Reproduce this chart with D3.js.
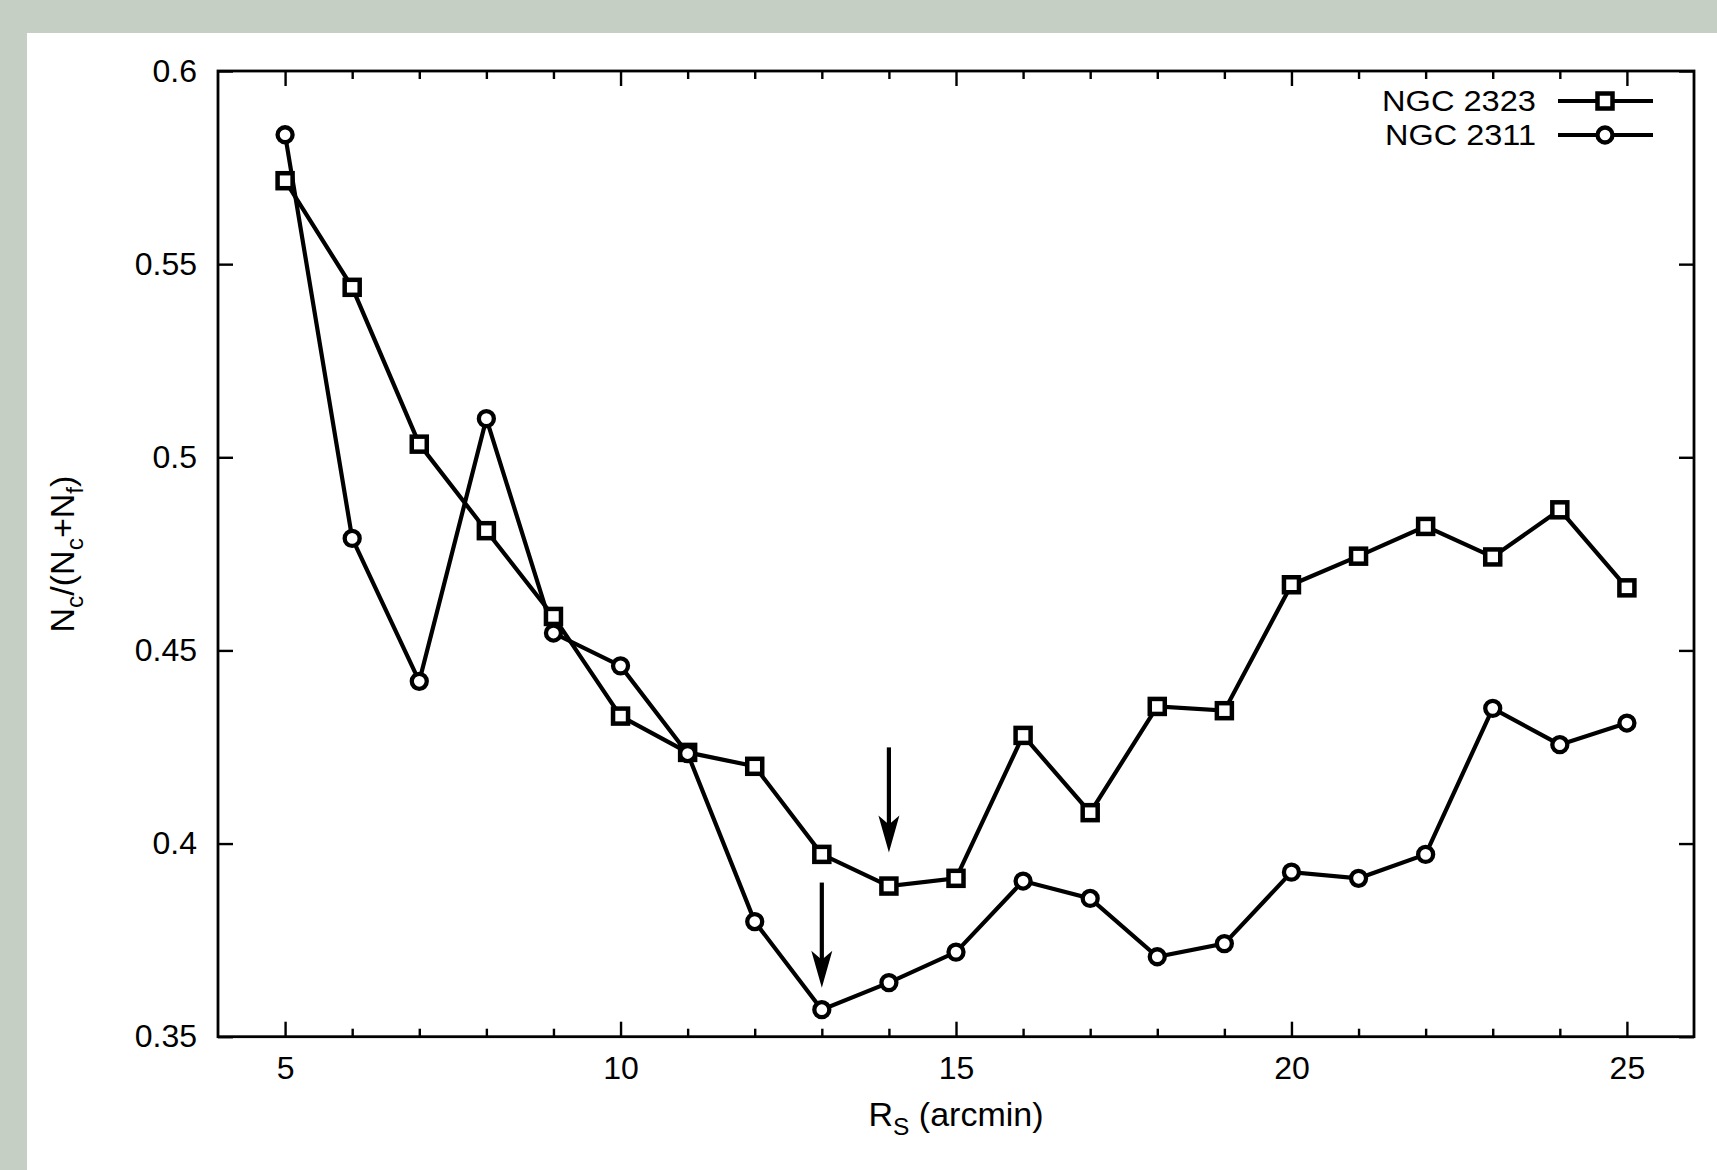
<!DOCTYPE html>
<html>
<head>
<meta charset="utf-8">
<script src="https://cdn.jsdelivr.net/npm/d3@7"></script>
<style>
  html, body { margin: 0; padding: 0; background: #c6cfc4; }
  svg { display: block; }
  text { font-family: "Liberation Sans", Arial, Helvetica, sans-serif; fill: #000; }
</style>
</head>
<body>
<svg id="chart" width="1717" height="1170"></svg>
<script>
// ---- data ----
const radii = [5,6,7,8,9,10,11,12,13,14,15,16,17,18,19,20,21,22,23,24,25];
const ngc2323 = [0.5716,0.544,0.5034,0.481,0.4588,0.433,0.4236,0.420,0.3972,0.389,0.391,
                 0.428,0.408,0.4355,0.4344,0.467,0.4744,0.4821,0.4742,0.4864,0.4662];
const ngc2311 = [0.5835,0.479,0.442,0.510,0.4545,0.446,0.4233,0.3798,0.357,0.364,0.3719,
                 0.3903,0.3858,0.3707,0.3741,0.3926,0.391,0.3972,0.435,0.4256,0.4312];
const seriesNames = ["NGC 2323", "NGC 2311"];
const xMajorTicks = [5,10,15,20,25];
const xMinorTicks = [5,6,7,8,9,10,11,12,13,14,15,16,17,18,19,20,21,22,23,24,25];
const yTicks = [0.35,0.4,0.45,0.5,0.55,0.6];
const yTickLabels = ["0.35","0.4","0.45","0.5","0.55","0.6"];
// arrows: [x, yStart, yEnd]
const arrowX = [14, 13];
const arrowFrom = [0.4249, 0.3899];
const arrowTo = [0.3977, 0.3627];

// ---- layout ----
const svg = d3.select("#chart");
const W = 1717, H = 1170;
const L = 218, R = 1694, T = 71, B = 1036.7;
const FS = 32, FL = 29, FT = 34;

svg.append("rect").attr("x", 0).attr("y", 0).attr("width", W).attr("height", H).attr("fill", "#c6cfc4");
svg.append("rect").attr("x", 27).attr("y", 33).attr("width", W - 27).attr("height", H - 33).attr("fill", "#ffffff");

const x = d3.scaleLinear().domain([4, 26]).range([L, R]);
const y = d3.scaleLinear().domain([0.35, 0.6]).range([B, T]);

const axisStyle = g => {
  g.select(".domain").remove();
  g.selectAll(".tick line").attr("stroke", "#000").attr("stroke-width", 2.4);
  g.selectAll(".tick text").style("font-size", FS + "px").attr("fill", "#000")
    .style("font-family", '"Liberation Sans", Arial, sans-serif');
};

// bottom major
svg.append("g").attr("transform", `translate(0,${B})`)
  .call(d3.axisBottom(x).tickValues(xMajorTicks).tickSize(-15).tickPadding(20).tickFormat(d3.format("d")))
  .call(axisStyle);
// bottom minor
svg.append("g").attr("transform", `translate(0,${B})`)
  .call(d3.axisBottom(x).tickValues(xMinorTicks.filter(v => !xMajorTicks.includes(v))).tickSize(-8).tickFormat(""))
  .call(axisStyle);
// top major/minor
svg.append("g").attr("transform", `translate(0,${T})`)
  .call(d3.axisTop(x).tickValues(xMajorTicks).tickSize(-15).tickFormat(""))
  .call(axisStyle);
svg.append("g").attr("transform", `translate(0,${T})`)
  .call(d3.axisTop(x).tickValues(xMinorTicks.filter(v => !xMajorTicks.includes(v))).tickSize(-8).tickFormat(""))
  .call(axisStyle);
// left
svg.append("g").attr("transform", `translate(${L},0)`)
  .call(d3.axisLeft(y).tickValues(yTicks).tickSize(-15).tickPadding(21).tickFormat((d, i) => yTickLabels[i]))
  .call(axisStyle);
// right
svg.append("g").attr("transform", `translate(${R},0)`)
  .call(d3.axisRight(y).tickValues(yTicks).tickSize(-15).tickFormat(""))
  .call(axisStyle);

// frame
svg.append("rect").attr("x", L).attr("y", T).attr("width", R - L).attr("height", B - T)
  .attr("fill", "none").attr("stroke", "#000").attr("stroke-width", 2.8);

// axis titles
const xt = svg.append("text").attr("x", (L + R) / 2).attr("y", 1126).attr("text-anchor", "middle")
  .style("font-size", FT + "px");
xt.append("tspan").text("R");
xt.append("tspan").attr("dy", 9).style("font-size", (FT * 0.72) + "px").text("S");
xt.append("tspan").attr("dy", -9).text(" (arcmin)");

const yt = svg.append("text").attr("transform", `translate(74,554) rotate(-90)`).attr("text-anchor", "middle")
  .style("font-size", FT + "px");
const sub = (t, txt) => { t.append("tspan").attr("dy", 9).style("font-size", (FT * 0.72) + "px").text(txt); };
yt.append("tspan").text("N"); sub(yt, "c");
yt.append("tspan").attr("dy", -9).text("/(N"); sub(yt, "c");
yt.append("tspan").attr("dy", -9).text("+N"); sub(yt, "f");
yt.append("tspan").attr("dy", -9).text(")");

// lines
const line = d3.line().x((d, i) => x(radii[i])).y(d => y(d));
[ngc2323, ngc2311].forEach(s => {
  svg.append("path").datum(s).attr("d", line).attr("fill", "none")
    .attr("stroke", "#000").attr("stroke-width", 4.2).attr("stroke-linejoin", "miter");
});

// markers
const drawSquare = (g, cx, cy) => g.append("rect").attr("x", cx - 7.5).attr("y", cy - 7.5)
  .attr("width", 15).attr("height", 15).attr("fill", "#fff").attr("stroke", "#000").attr("stroke-width", 4.5);
const drawCircle = (g, cx, cy) => g.append("circle").attr("cx", cx).attr("cy", cy).attr("r", 7.5)
  .attr("fill", "#fff").attr("stroke", "#000").attr("stroke-width", 4.3);

const mg = svg.append("g");
ngc2323.forEach((v, i) => drawSquare(mg, x(radii[i]), y(v)));
ngc2311.forEach((v, i) => drawCircle(mg, x(radii[i]), y(v)));

// arrows
arrowX.forEach((ax, i) => {
  const px = x(ax), y0 = y(arrowFrom[i]), y1 = y(arrowTo[i]);
  svg.append("line").attr("x1", px).attr("x2", px).attr("y1", y0).attr("y2", y1 - 20)
    .attr("stroke", "#000").attr("stroke-width", 4.2);
  svg.append("path").attr("d", `M${px - 10.5},${y1 - 37} L${px},${y1 - 28} L${px + 10.5},${y1 - 37} L${px},${y1} Z`)
    .attr("fill", "#000");
});

// legend
const legY = [101, 135];
const legW = [154, 151];
seriesNames.forEach((n, i) => {
  svg.append("text").attr("x", 1536).attr("y", legY[i]).attr("dy", "0.36em").attr("text-anchor", "end")
    .attr("textLength", legW[i]).attr("lengthAdjust", "spacingAndGlyphs")
    .style("font-size", FL + "px").text(n);
  svg.append("line").attr("x1", 1558).attr("x2", 1653).attr("y1", legY[i]).attr("y2", legY[i])
    .attr("stroke", "#000").attr("stroke-width", 4.2);
  if (i === 0) drawSquare(svg, 1605, legY[i]); else drawCircle(svg, 1605, legY[i]);
});
</script>
</body>
</html>
